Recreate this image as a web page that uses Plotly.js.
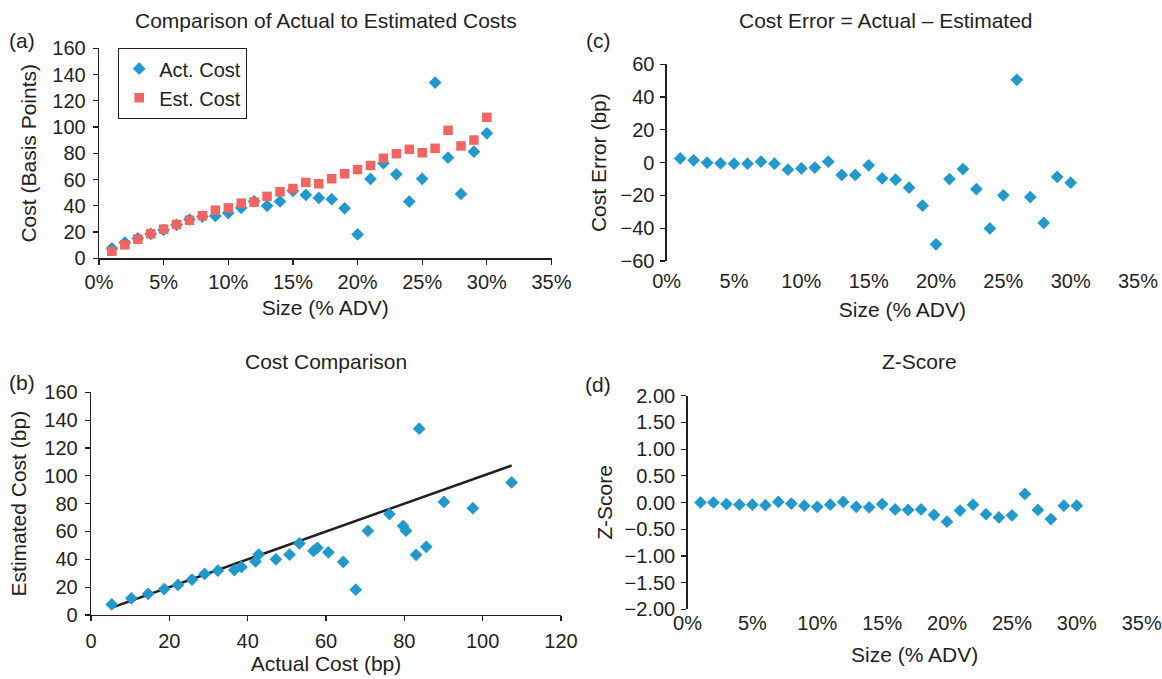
<!DOCTYPE html>
<html>
<head>
<meta charset="utf-8">
<script src="https://cdn.plot.ly/plotly-3.0.1.min.js"></script>
<style>
  html, body { margin: 0; padding: 0; background: #fff; }
  #chart { width: 1162px; height: 679px; }
</style>
</head>
<body>
<div id="chart"></div>
<script>
// ---- Data ----
const sizePct = [1,2,3,4,5,6,7,8,9,10,11,12,13,14,15,16,17,18,19,20,21,22,23,24,25,26,27,28,29,30];
const actCost = [7.6,12.0,15.2,18.6,21.6,25.5,29.5,31.8,32.3,34.5,38.5,43.4,40.0,43.3,51.4,48.3,46.0,45.0,38.1,18.2,60.5,72.5,64.0,43.2,60.6,133.9,76.7,49.0,81.2,95.2];
const estCost = [5.3,10.3,14.6,18.7,22.2,25.8,29.0,32.4,36.6,38.4,42.0,42.8,47.2,50.7,53.2,57.8,56.8,60.6,64.4,67.6,70.7,76.2,79.7,83.0,80.4,83.8,97.5,85.6,90.1,107.4];
const costError = [2.6,1.4,0.0,-0.4,-0.6,-0.6,0.6,-0.6,-4.3,-3.5,-3.0,0.6,-7.5,-7.5,-1.6,-9.6,-10.4,-15.3,-26.2,-49.8,-10.0,-3.9,-16.1,-40.1,-19.9,50.5,-21.0,-36.8,-8.7,-12.2];
const zScore = [0.00,0.00,-0.03,-0.04,-0.04,-0.05,0.01,-0.02,-0.06,-0.08,-0.04,0.01,-0.08,-0.09,-0.03,-0.13,-0.14,-0.13,-0.23,-0.36,-0.15,-0.04,-0.22,-0.28,-0.24,0.16,-0.14,-0.31,-0.06,-0.06];

const sizeTicks = [0,5,10,15,20,25,30,35];
const sizeTickLabels = ['0%','5%','10%','15%','20%','25%','30%','35%'];

// ---- Styling ----
const BLUE = '#2299CC';
const RED = '#F06461';
const INK = '#231F20';
const FONT = 'Liberation Sans, Arial, sans-serif';
const FS = 21;   // titles, legend, axis titles
const TS = 20;   // tick labels

const W = 1162, H = 679;
function dx(a, b) { return [a / W, b / W]; }
function dy(top, bottom) { return [1 - bottom / H, 1 - top / H]; }

const domA = { x: dx(99, 551.5), y: dy(48.3, 258.3) };
const domC = { x: dx(666.7, 1138), y: dy(64.3, 261) };
const domB = { x: dx(91, 561), y: dy(392.3, 615) };
const domD = { x: dx(687.5, 1141.7), y: dy(395.7, 609.3) };

function zeroPos(dom, lo, hi) { return dom.y[0] + (0 - lo) / (hi - lo) * (dom.y[1] - dom.y[0]); }

const diamond = { symbol: 'diamond', size: 9.8, color: BLUE };
const square = { symbol: 'square', size: 9.5, color: RED };

const lineMin = Math.min(...estCost), lineMax = Math.max(...estCost);

const traces = [
  { type: 'scatter', mode: 'markers', name: 'Act. Cost', x: sizePct, y: actCost, xaxis: 'x', yaxis: 'y', marker: diamond, cliponaxis: false },
  { type: 'scatter', mode: 'markers', name: 'Est. Cost', x: sizePct, y: estCost, xaxis: 'x', yaxis: 'y', marker: square, cliponaxis: false },
  { type: 'scatter', mode: 'markers', showlegend: false, x: sizePct, y: costError, xaxis: 'x2', yaxis: 'y2', marker: diamond, cliponaxis: false },
  { type: 'scatter', mode: 'lines', showlegend: false, x: [lineMin, lineMax], y: [lineMin, lineMax], xaxis: 'x3', yaxis: 'y3', line: { color: INK, width: 2.5 } },
  { type: 'scatter', mode: 'markers', showlegend: false, x: estCost, y: actCost, xaxis: 'x3', yaxis: 'y3', marker: diamond, cliponaxis: false },
  { type: 'scatter', mode: 'markers', showlegend: false, x: sizePct, y: zScore, xaxis: 'x4', yaxis: 'y4', marker: diamond, cliponaxis: false }
];

const axBase = {
  showgrid: false, zeroline: false, showline: true, linecolor: INK, linewidth: 1.3,
  ticks: 'outside', ticklen: 5, tickwidth: 1.2, tickcolor: INK,
  tickfont: { family: FONT, size: TS, color: INK }, fixedrange: true
};
function ax(o) { return Object.assign({}, axBase, o); }
const tfont = { family: FONT, size: FS, color: INK };

const layout = {
  width: W, height: H,
  margin: { l: 0, r: 0, t: 0, b: 0 },
  paper_bgcolor: '#fff', plot_bgcolor: 'rgba(0,0,0,0)',
  font: { family: FONT, size: FS, color: INK },
  showlegend: true,
  legend: {
    x: 118 / W, y: 1 - 48 / H, xanchor: 'left', yanchor: 'top',
    bordercolor: INK, borderwidth: 1.2, bgcolor: '#fff',
    font: { family: FONT, size: 20, color: INK }, itemwidth: 30, tracegroupgap: 0
  },
  // Panel (a)
  xaxis: ax({ domain: domA.x, anchor: 'y', range: [0, 35], tickvals: sizeTicks, ticktext: sizeTickLabels,
    title: { text: 'Size (% ADV)', font: tfont, standoff: 8 } }),
  yaxis: ax({ domain: domA.y, anchor: 'x', range: [0, 160], dtick: 20, tick0: 0, ticklabelstandoff: 3,
    title: { text: 'Cost (Basis Points)', font: tfont, standoff: 10 } }),
  // Panel (c)
  xaxis2: ax({ domain: domC.x, anchor: 'y2', range: [0, 35], tickvals: sizeTicks, ticktext: sizeTickLabels,
    showline: false, ticks: '', ticklabelstandoff: 6, title: { text: 'Size (% ADV)', font: tfont, standoff: 11 } }),
  yaxis2: ax({ domain: domC.y, anchor: 'x2', range: [-60, 60], dtick: 20, tick0: 0, ticklabelstandoff: 2,
    title: { text: 'Cost Error (bp)', font: tfont, standoff: 8 } }),
  xaxis5: ax({ domain: domC.x, anchor: 'free', overlaying: 'x2', position: zeroPos(domC, -60, 60),
    range: [0, 35], tickvals: sizeTicks, showticklabels: false, linewidth: 1.1 }),
  // Panel (b)
  xaxis3: ax({ domain: domB.x, anchor: 'y3', range: [0, 120], dtick: 20, tick0: 0, ticklabelstandoff: 3,
    title: { text: 'Actual Cost (bp)', font: tfont, standoff: 2 } }),
  yaxis3: ax({ domain: domB.y, anchor: 'x3', range: [0, 160], dtick: 20, tick0: 0, ticklabelstandoff: 3,
    title: { text: 'Estimated Cost (bp)', font: tfont, standoff: 12 } }),
  // Panel (d)
  xaxis4: ax({ domain: domD.x, anchor: 'y4', range: [0, 35], tickvals: sizeTicks, ticktext: sizeTickLabels,
    showline: false, ticks: '', title: { text: 'Size (% ADV)', font: tfont, standoff: 14 } }),
  yaxis4: ax({ domain: domD.y, anchor: 'x4', range: [-2, 2], dtick: 0.5, tick0: 0, tickformat: '.2f', ticklabelstandoff: 2,
    title: { text: 'Z-Score', font: tfont, standoff: 6 } }),
  xaxis6: ax({ domain: domD.x, anchor: 'free', overlaying: 'x4', position: zeroPos(domD, -2, 2),
    range: [0, 35], tickvals: sizeTicks, showticklabels: false, linewidth: 1.1 }),
  annotations: [
    { text: 'Comparison of Actual to Estimated Costs', x: 326 / W, y: 1 - 20 / H },
    { text: 'Cost Error = Actual \u2013 Estimated', x: 886 / W, y: 1 - 20 / H },
    { text: 'Cost Comparison', x: 326 / W, y: 1 - 361 / H },
    { text: 'Z-Score', x: 920 / W, y: 1 - 361 / H },
    { text: '(a)', x: 22 / W, y: 1 - 40 / H },
    { text: '(c)', x: 598 / W, y: 1 - 40 / H },
    { text: '(b)', x: 22 / W, y: 1 - 382 / H },
    { text: '(d)', x: 598 / W, y: 1 - 384 / H }
  ].map(a => Object.assign({ xref: 'paper', yref: 'paper', xanchor: 'center', yanchor: 'middle',
    showarrow: false, font: { family: FONT, size: FS, color: INK } }, a))
};

Plotly.newPlot('chart', traces, layout, { displayModeBar: false, staticPlot: true });
</script>
</body>
</html>
